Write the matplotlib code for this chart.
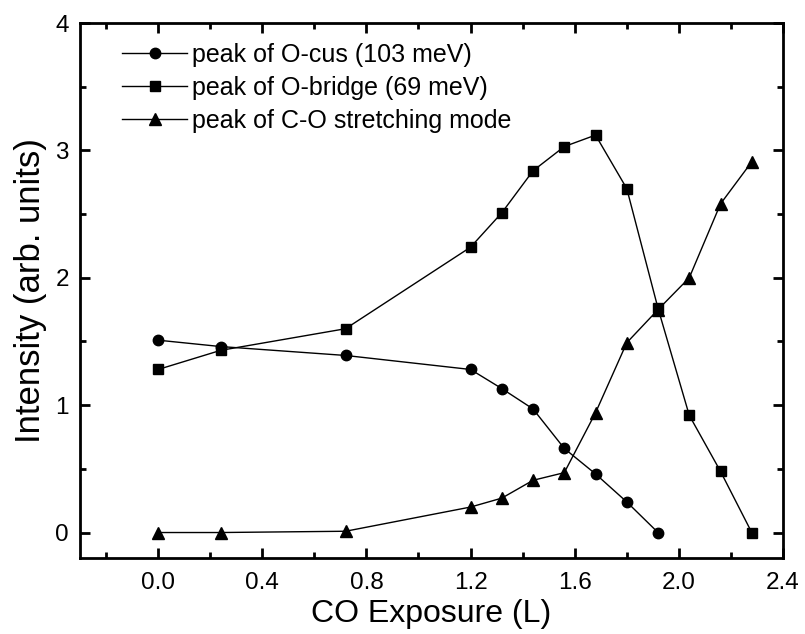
import matplotlib
matplotlib.use("Agg")
import matplotlib.pyplot as plt
from matplotlib.ticker import MultipleLocator

plt.rcParams['font.family'] = ['Liberation Sans', 'DejaVu Sans']

# CO exposure (L) and peak intensities (arb. units)
exposure_cus = [0.0, 0.24, 0.72, 1.20, 1.32, 1.44, 1.56, 1.68, 1.80, 1.92]
o_cus = [1.51, 1.46, 1.39, 1.28, 1.13, 0.97, 0.66, 0.46, 0.24, 0.0]

exposure = [0.0, 0.24, 0.72, 1.20, 1.32, 1.44, 1.56, 1.68, 1.80, 1.92, 2.04, 2.16, 2.28]
o_bridge = [1.28, 1.43, 1.60, 2.24, 2.51, 2.84, 3.03, 3.12, 2.70, 1.76, 0.92, 0.48, 0.0]
co_stretch = [0.0, 0.0, 0.01, 0.20, 0.27, 0.41, 0.47, 0.94, 1.49, 1.75, 2.00, 2.58, 2.91]

labels = ["peak of O-cus (103 meV)",
          "peak of O-bridge (69 meV)",
          "peak of C-O stretching mode"]

fig = plt.figure(figsize=(8.05, 6.34), dpi=100)
ax = fig.add_axes([80 / 805, 1 - 558 / 634, (783 - 80) / 805, (558 - 23) / 634])

ax.plot(exposure_cus, o_cus, marker='o', label=labels[0],
        color='black', linewidth=1.0, markersize=7.5)
ax.plot(exposure, o_bridge, marker='s', label=labels[1],
        color='black', linewidth=1.0, markersize=7)
ax.plot(exposure, co_stretch, marker='^', label=labels[2],
        color='black', linewidth=1.0, markersize=8)

ax.set_xlim(-0.3, 2.4)
ax.set_ylim(-0.2, 4.0)
ax.xaxis.set_minor_locator(MultipleLocator(0.2))
ax.yaxis.set_minor_locator(MultipleLocator(0.5))
ax.set_xticks([0.0, 0.4, 0.8, 1.2, 1.6, 2.0, 2.4])
ax.set_xticklabels(["0.0", "0.4", "0.8", "1.2", "1.6", "2.0", "2.4"])
ax.set_yticks([0, 1, 2, 3, 4])
ax.set_yticklabels(["0", "1", "2", "3", "4"])

ax.tick_params(which='both', direction='in', top=True, right=True,
               width=2.0, labelsize=17.5)
ax.tick_params(axis='x', which='major', pad=10)
ax.tick_params(axis='y', which='major', pad=8)
ax.tick_params(which='major', length=7)
ax.tick_params(which='minor', length=4)
for sp in ax.spines.values():
    sp.set_linewidth(2.0)

ax.set_xlabel("CO Exposure (L)", fontsize=23, labelpad=4)
ax.set_ylabel("Intensity (arb. units)", fontsize=25, labelpad=6)

ax.legend(loc='upper left', frameon=False, fontsize=18, handlelength=2.6,
          handletextpad=0.2, labelspacing=0.36, borderaxespad=0.4,
          bbox_to_anchor=(0.032, 1.0))

fig.savefig("out.png", dpi=100)
